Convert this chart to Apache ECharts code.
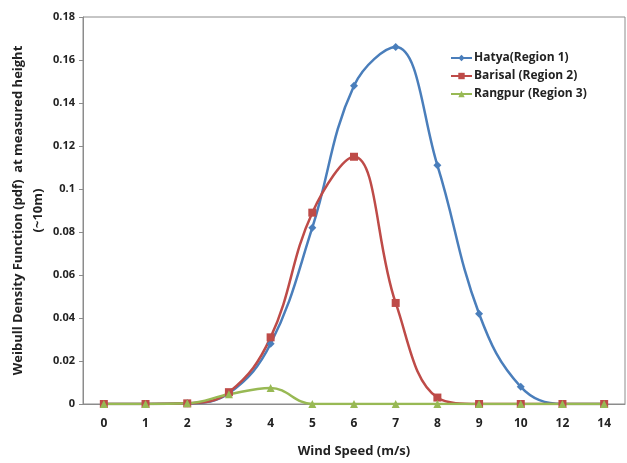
<!DOCTYPE html>
<html>
<head>
<meta charset="utf-8">
<script src="https://cdn.jsdelivr.net/npm/echarts@6/dist/echarts.min.js"></script>
<style>
  html, body { margin: 0; padding: 0; background: #fff; }
  #main { width: 627px; height: 463px; }
</style>
</head>
<body>
<div id="main"></div>
<script>
// wind speed categories (m/s)
const windSpeeds = ['0', '1', '2', '3', '4', '5', '6', '7', '8', '9', '10', '12', '14'];
// weibull pdf values
const hatya = [0, 0, 0.0003, 0.005, 0.028, 0.082, 0.148, 0.166, 0.111, 0.042, 0.008, 0, 0];
const barisal = [0, 0, 0.0003, 0.0055, 0.031, 0.089, 0.115, 0.047, 0.003, 0, 0, 0, 0];
const rangpur = [0, 0, 0.0003, 0.0045, 0.0075, 0, 0, 0, 0, 0, 0, 0, 0];

const chart = echarts.init(document.getElementById('main'));
const font = '"Open Sans", sans-serif';

function line(name, data, color, symbol, size) {
  return {
    name: name,
    type: 'line',
    data: data,
    smooth: 0.4,
    symbol: symbol,
    symbolSize: size,
    lineStyle: { color: color, width: 2.5 },
    itemStyle: { color: color },
    z: 3
  };
}

chart.setOption({
  animation: false,
  grid: {
    left: 83, right: 2, top: 17, bottom: 59,
    outerBoundsMode: 'none',
    show: true, borderColor: '#8c8c8c', borderWidth: 1
  },
  legend: {
    orient: 'vertical',
    left: 445, top: 47,
    itemGap: 6,
    itemWidth: 21, itemHeight: 8,
    textStyle: { fontFamily: font, fontWeight: 'bold', fontSize: 12, color: '#222', padding: [0, 0, 0, -3] },
    data: ['Hatya(Region 1)', 'Barisal (Region 2)', 'Rangpur (Region 3)']
  },
  xAxis: {
    type: 'category',
    data: windSpeeds,
    name: 'Wind Speed (m/s)',
    nameLocation: 'middle',
    nameGap: 41,
    nameMoveOverlap: false,
    nameTextStyle: { fontFamily: font, fontWeight: 'bold', fontSize: 13, color: '#222' },
    axisLine: { lineStyle: { color: '#8c8c8c' } },
    axisTick: { alignWithLabel: true, length: 4, lineStyle: { color: '#8c8c8c' } },
    axisLabel: { margin: 14, fontFamily: font, fontWeight: 'bold', fontSize: 12, color: '#222' }
  },
  yAxis: {
    type: 'value',
    min: 0, max: 0.18, interval: 0.02,
    name: 'Weibull Density Function (pdf)  at measured height\n(~10m)',
    nameLocation: 'middle',
    nameRotate: 90,
    nameGap: 35,
    nameMoveOverlap: false,
    nameTextStyle: { fontFamily: font, fontWeight: 'bold', fontSize: 13, color: '#222', lineHeight: 20 },
    axisLine: { show: true, lineStyle: { color: '#8c8c8c' } },
    axisTick: { show: true, length: 4, lineStyle: { color: '#8c8c8c' } },
    splitLine: { show: false },
    axisLabel: {
      margin: 8, fontFamily: font, fontWeight: 'bold', fontSize: 11, color: '#222',
      formatter: function (v) { return String(+v.toFixed(2)); }
    }
  },
  series: [
    line('Hatya(Region 1)', hatya, '#4a7ebb', 'diamond', 8),
    line('Barisal (Region 2)', barisal, '#be4b48', 'rect', 8),
    line('Rangpur (Region 3)', rangpur, '#98b954', 'triangle', 8)
  ]
});
</script>
</body>
</html>
